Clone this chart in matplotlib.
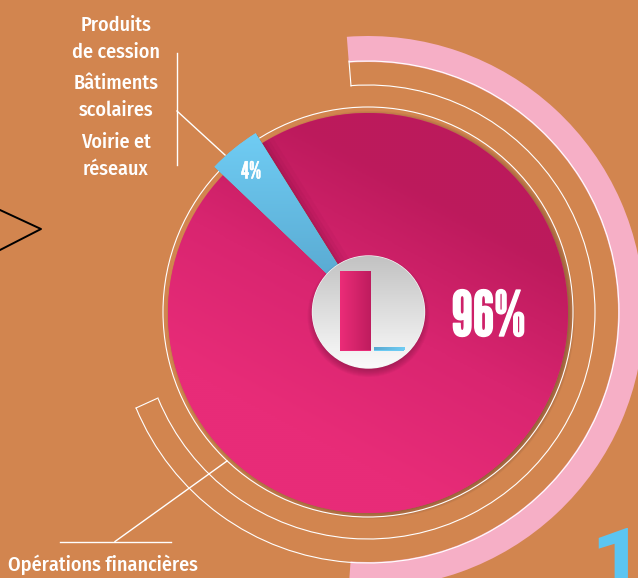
import numpy as np
import matplotlib
matplotlib.use("Agg")
import matplotlib.pyplot as plt
from matplotlib.patches import Wedge, Circle, Arc
from matplotlib.colors import LinearSegmentedColormap
import matplotlib.patheffects as pe

shares = [96, 4]
share_labels = ['96%', '4%']
label_top = ['Produits\nde cession', 'Bâtiments\nscolaires', 'Voirie et\nréseaux']
label_bottom = 'Opérations financières'

BG = '#D2854F'
PINK = '#E82C78'
BLUE = '#6BC9F2'
H = 578
cx, cy = 368, H - 312


def py(v):
    return H - v


def grad(ax, patch, colors, angle, box):
    # linear gradient painted inside a patch
    n = 200
    xx, yy = np.meshgrid(np.linspace(0, 1, n), np.linspace(0, 1, n))
    t = xx * np.cos(np.radians(angle)) + yy * np.sin(np.radians(angle))
    t = (t - t.min()) / (t.max() - t.min())
    cmap = LinearSegmentedColormap.from_list('g', colors)
    im = ax.imshow(t, cmap=cmap, extent=box, origin='lower', aspect='auto',
                   zorder=patch.get_zorder() + 0.1, interpolation='bilinear')
    im.set_clip_path(patch)
    return im


fig = plt.figure(figsize=(6.38, 5.78), dpi=100, facecolor=BG)
ax = fig.add_axes([0, 0, 1, 1])
ax.set_facecolor(BG)

# pink band and thin rings
ax.add_patch(Wedge((cx, cy), 276, -94, 94.4, width=26, fc='#F6AFC6', ec='none', zorder=1))
for r in (227, 251):
    ax.add_patch(Arc((cx, cy), 2 * r, 2 * r, theta1=-157.6, theta2=94.4, ec='white', lw=0.8, zorder=2))
ax.plot([349, 351], [py(61), py(86)], color='white', lw=0.8, zorder=2)
ax.plot([136, 158], [py(408), py(398)], color='white', lw=0.8, zorder=2)

# soft shadow under the pie, thrown to the lower right
for i in range(8):
    ax.add_patch(Circle((cx + 3, cy - 3), 204 - i, fc='#5A3A2A', ec='none', alpha=0.08, zorder=3))
ax.add_patch(Circle((cx, cy), 205, fc='none', ec='white', lw=0.8, zorder=4))

wedges, _ = ax.pie(shares, startangle=136.4, counterclock=True, center=(cx, cy - 1), radius=200,
                   colors=[PINK, BLUE], wedgeprops={'linewidth': 0, 'zorder': 5})
wedges[0].set_zorder(5)
wedges[1].set_zorder(7)
wedges[1].set_radius(212)

grad(ax, wedges[0], ['#E82C78', '#E82C78', '#D92570', '#BC1A5C', '#BC1A5C'], 62,
     (168, 568, py(513), py(113)))

# shading on pink next to the blue slice
for w, a in ((18, 0.05), (12, 0.07), (7, 0.09), (3, 0.12)):
    s = ax.plot([cx, cx - 118], [cy, cy + 187], color='#6A0A35', lw=w, alpha=a,
                zorder=6, solid_capstyle='butt')[0]
    s.set_clip_path(wedges[0])

# brown edge of the blue slice, then its gradient
ax.add_patch(Wedge((cx + 1, cy - 2), 212, 122, 136.4, fc='#8A6A40', ec='none', zorder=6.5))
grad(ax, wedges[1], ['#55A3CB', '#70CDF4'], 90, (200, 375, py(312), py(130)))

# centre disc
for i in range(8):
    ax.add_patch(Circle((cx + 0.5, cy - 4), 61 - i, fc='#50102F', ec='none', alpha=0.05, zorder=8))
disc = Circle((cx + 0.5, cy), 56, fc='#E0E0E0', ec='#F4F4F4', lw=1, zorder=9)
ax.add_patch(disc)
grad(ax, disc, ['#FBFBFB', '#C2C2C2'], 90, (312, 425, cy - 56, cy + 56))

# leaders
ax.plot([176.5, 176.5], [py(53), py(165)], color='white', lw=1, zorder=10)
ax.plot([177, 225], [py(111), py(155)], color='white', lw=1, zorder=10)
ax.plot([60, 171], [py(541.5), py(541.5)], color='white', lw=1, zorder=10)
ax.plot([115, 227], [py(541.5), py(461)], color='white', lw=1, zorder=10)

# arrow fragment on the left
ax.plot([0, 41, 0], [py(210), py(229), py(250)], color='black', lw=1.4, zorder=2)

# texts
lab = dict(color='white', family=['Fira Sans Condensed', 'Roboto', 'DejaVu Sans'], fontsize=14.5,
           fontweight='medium', ha='center', va='center', linespacing=1.5, zorder=12)
ax.text(116, py(39), label_top[0], **lab)
ax.text(116, py(97), label_top[1], **lab)
ax.text(116, py(156), label_top[2], **lab)
ax.text(103, py(565), label_bottom, **lab)

narrow = ['League Gothic', 'Anton', 'Roboto', 'DejaVu Sans']
ax.text(488.5, py(319), share_labels[0], color='white', family=narrow, fontsize=45,
        ha='center', va='center', zorder=12,
        path_effects=[pe.withStroke(linewidth=1, foreground='white')])
ax.text(251, py(172), share_labels[1], color='white', family=narrow, fontsize=17,
        ha='center', va='center', zorder=12,
        path_effects=[pe.withStroke(linewidth=0.3, foreground='white')])

# big page digit, cut by the bottom edge
ax.text(590, py(524), '1', color='#5BC5F2', family=['Roboto', 'DejaVu Sans'], fontsize=68,
        fontweight='bold', ha='left', va='top', zorder=12)

ax.set_xlim(0, 638)
ax.set_ylim(0, H)
ax.set_aspect('auto')
ax.axis('off')

# small bars inside the disc, same values as the pie
bx = fig.add_axes([340 / 638, py(350.5) / H, 64.5 / 638, 80 / H], zorder=5)
bx.patch.set_alpha(0)
bars = bx.bar([0, 1], shares, width=0.9, color=[PINK, BLUE])
grad(bx, bars[0], ['#EC2C78', '#BE1C5E'], 0, (-0.45, 0.45, 0, 96))
grad(bx, bars[1], ['#5AA8D0', '#70CDF4'], 0, (0.55, 1.45, 0, 4))
bx.set_xlim(-0.45, 1.45)
bx.set_ylim(0, 96)
bx.axis('off')

fig.savefig('out.png', dpi=100, facecolor=BG)
